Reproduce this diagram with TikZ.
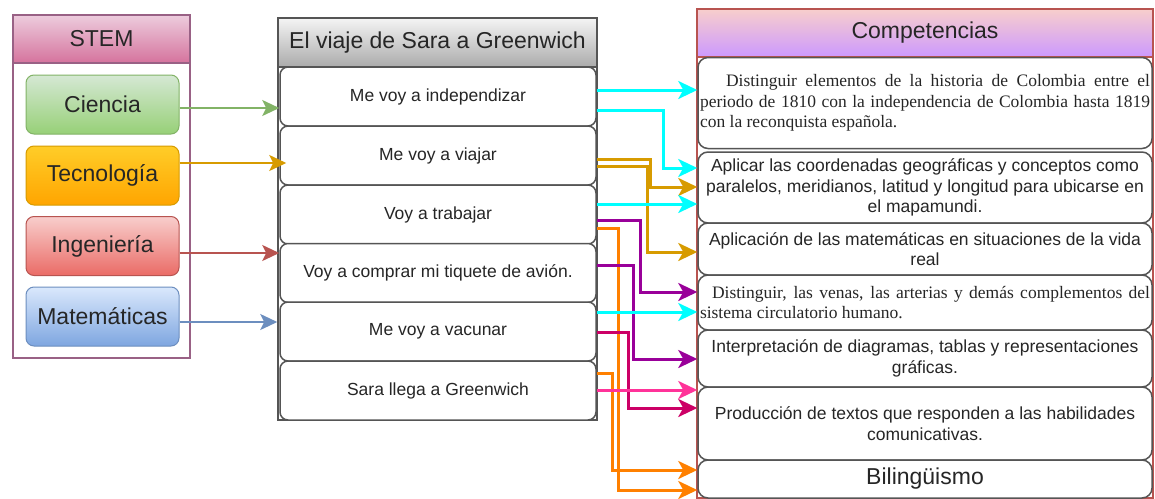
\documentclass[tikz,border=0pt]{standalone}
\usepackage{fontspec}
\setmainfont{Liberation Sans}
\newfontfamily\timesfont{Liberation Serif}
\usepackage{xcolor}
\usepackage{tikz}
\usetikzlibrary{arrows.meta}

\definecolor{stemline}{HTML}{996185}
\definecolor{stemtop}{HTML}{EDCCDD}
\definecolor{stembot}{HTML}{D5739D}
\definecolor{tripline}{HTML}{555555}
\definecolor{triptop}{HTML}{F4F4F4}
\definecolor{tripbot}{HTML}{ABABAB}
\definecolor{compline}{HTML}{B85450}
\definecolor{comptop}{HTML}{F8CECC}
\definecolor{compbot}{HTML}{CC99FF}
\definecolor{cienline}{HTML}{82B366}
\definecolor{cientop}{HTML}{D5E8D4}
\definecolor{cienbot}{HTML}{97D077}
\definecolor{tecnline}{HTML}{D79B00}
\definecolor{tecntop}{HTML}{FFCD28}
\definecolor{tecnbot}{HTML}{FFA500}
\definecolor{ingeline}{HTML}{B85450}
\definecolor{ingetop}{HTML}{F8CECC}
\definecolor{ingebot}{HTML}{EA6B66}
\definecolor{mateline}{HTML}{6C8EBF}
\definecolor{matetop}{HTML}{DAE8FC}
\definecolor{matebot}{HTML}{7EA6E0}
\definecolor{lcyan}{HTML}{00FFFF}
\definecolor{lgold}{HTML}{D79B00}
\definecolor{lpurple}{HTML}{990099}
\definecolor{lorange}{HTML}{FF8000}
\definecolor{lmagenta}{HTML}{CC0066}
\definecolor{lpink}{HTML}{FF3399}

\newcommand{\bigtxt}{\fontsize{23}{27}\selectfont}
\newcommand{\midtxt}{\fontsize{17.5}{20.5}\selectfont}
\newcommand{\serftxt}{\timesfont\fontsize{17.5}{20.5}\selectfont}

\tikzset{
	frame/.style={shape=rectangle, line width=2pt, fill=white, inner sep=0pt},
	head/.style={shape=rectangle, line width=2pt, inner sep=0pt, font=\bigtxt, text=black!85},
	stembox/.style={shape=rectangle, rounded corners=8pt, line width=1pt, minimum width=153pt, minimum height=59pt, inner sep=0pt, font=\bigtxt, text=black!85},
	tripbox/.style={shape=rectangle, rounded corners=8pt, draw=tripline, line width=1.5pt, fill=white, minimum width=316pt, minimum height=59pt, inner sep=0pt, font=\midtxt, text=black!85},
	compbox/.style={shape=rectangle, rounded corners=10pt, draw=tripline, line width=1.5pt, fill=white, minimum width=454pt, inner sep=2pt, font=\midtxt, text=black!85, align=center},
	stemlink/.style={line width=2pt, -{Stealth[length=17pt,width=16pt,inset=4pt]}},
	link/.style={line width=3pt, -{Stealth[length=19pt,width=18pt,inset=5pt]}}
}

\begin{document}
\begin{tikzpicture}[x=1pt,y=-1pt]
			\useasboundingbox (0,0) rectangle (1155,498);

			%% STEM
			\node[frame, draw=stemline, minimum width=177pt, minimum height=343pt] (stem) at (101.5,186.5) {};
			\node[head, draw=stemline, top color=stemtop, bottom color=stembot, minimum width=177pt, minimum height=48pt] (stemh) at (101.5,39) {STEM};
			\node[stembox, draw=cienline, top color=cientop, bottom color=cienbot] (cien) at (102.5,104.5) {Ciencia};
			\node[stembox, draw=tecnline, top color=tecntop, bottom color=tecnbot] (tecn) at (102.5,175.5) {Tecnología};
			\node[stembox, draw=ingeline, top color=ingetop, bottom color=ingebot] (inge) at (102.5,246) {Ingeniería};
			\node[stembox, draw=mateline, top color=matetop, bottom color=matebot] (mate) at (102.5,316.5) {Matemáticas};

			%% viaje
			\node[frame, draw=tripline, minimum width=319pt, minimum height=402pt] (trip) at (437.5,219) {};
			\node[head, draw=tripline, top color=triptop, bottom color=tripbot, minimum width=319pt, minimum height=49pt] (triph) at (437.5,42.5) {El viaje de Sara a Greenwich};
			\node[tripbox] (v1) at (438,96.5) {Me voy a independizar};
			\node[tripbox] (v2) at (438,155.5) {Me voy a viajar};
			\node[tripbox] (v3) at (438,214.5) {Voy a trabajar};
			\node[tripbox] (v4) at (438,273) {Voy a comprar mi tiquete de avión.};
			\node[tripbox] (v5) at (438,331.5) {Me voy a vacunar};
			\node[tripbox] (v6) at (438,390.5) {Sara llega a Greenwich};

			%% competencias
			\node[frame, draw=compline, minimum width=456pt, minimum height=489pt] (comp) at (925,253.5) {};
			\node[head, draw=compline, top color=comptop, bottom color=compbot, minimum width=456pt, minimum height=48pt] (comph) at (925,33) {Competencias};
			\node[compbox, minimum height=91pt, text width=450pt, align=justify, font=\serftxt] (c1) at (925,103) {\hspace*{26pt}Distinguir elementos de la historia de Colombia entre el\linebreak periodo de 1810 con la independencia de Colombia hasta 1819\linebreak con la reconquista española.};
			\node[compbox, minimum height=71pt] (c2) at (925,187.5) {Aplicar las coordenadas geográficas y conceptos como\\ paralelos, meridianos, latitud y longitud para ubicarse en\\ el mapamundi.};
			\node[compbox, minimum height=52pt] (c3) at (925,249) {Aplicación de las matemáticas en situaciones de la vida\\ real};
			\node[compbox, minimum height=55pt, text width=450pt, align=justify, font=\serftxt] (c4) at (925,302.5) {\hspace*{12pt}Distinguir, las venas, las arterias y demás complementos del\linebreak sistema circulatorio humano.};
			\node[compbox, minimum height=57pt] (c5) at (925,358.5) {Interpretación de diagramas, tablas y representaciones\\ gráficas.};
			\node[compbox, minimum height=73pt] (c6) at (925,423.5) {Producción de textos que responden a las habilidades\\ comunicativas.};
			\node[compbox, minimum height=38pt, font=\bigtxt] (c7) at (925,479) {Bilingüismo};

			%% lines
			\draw[stemlink, cienline] ([yshift=-3.5pt]cien.east) -- ([yshift=-11.5pt]v1.west);
			\draw[stemlink, tecnline] ([yshift=12.5pt]tecn.east) -- ([xshift=7pt,yshift=-7.5pt]v2.west);
			\draw[stemlink, ingeline] ([yshift=-7pt]inge.east) -- ([yshift=20pt]v4.west);
			\draw[stemlink, mateline] ([yshift=-5.5pt]mate.east) -- ([xshift=-2pt,yshift=9.5pt]v5.west);

			\draw[link, lgold] ([yshift=-3.5pt]v2.east) -- ++(54,0) |- ([yshift=0.5pt]c2.west);
			\draw[link, lgold] ([yshift=-10.5pt]v2.east) -- ++(51,0) |- ([yshift=-3pt]c3.west);
			\draw[link, lpurple] ([yshift=-5.5pt]v3.east) -- ++(44,0) |- ([yshift=10.5pt]c4.west);
			\draw[link, lorange] ([yshift=-13.5pt]v3.east) -- ++(22,0) |- ([yshift=-11pt]c7.west);
			\draw[link, lpurple] ([yshift=8pt]v4.east) -- ++(37,0) |- ([yshift=-0.5pt]c5.west);
			\draw[link, lmagenta] ([yshift=-0.5pt]v5.east) -- ++(32,0) |- ([yshift=15.5pt]c6.west);
			\draw[link, lorange] ([yshift=17.5pt]v6.east) -- ++(16,0) |- ([yshift=9pt]c7.west);
			\draw[link, lcyan] ([yshift=6.5pt]v1.east) -- ([yshift=13pt]c1.west);
			\draw[link, lcyan] ([yshift=-13.5pt]v1.east) -- ++(67,0) |- ([yshift=19.5pt]c2.west);
			\draw[link, lcyan] ([yshift=10.5pt]v3.east) -- ([yshift=-16.5pt]c2.west);
			\draw[link, lcyan] ([yshift=19.5pt]v5.east) -- ([yshift=-9.5pt]c4.west);
			\draw[link, lpink] ([yshift=0.5pt]v6.east) -- ([yshift=33.5pt]c6.west);
		\end{tikzpicture}
\end{document}
